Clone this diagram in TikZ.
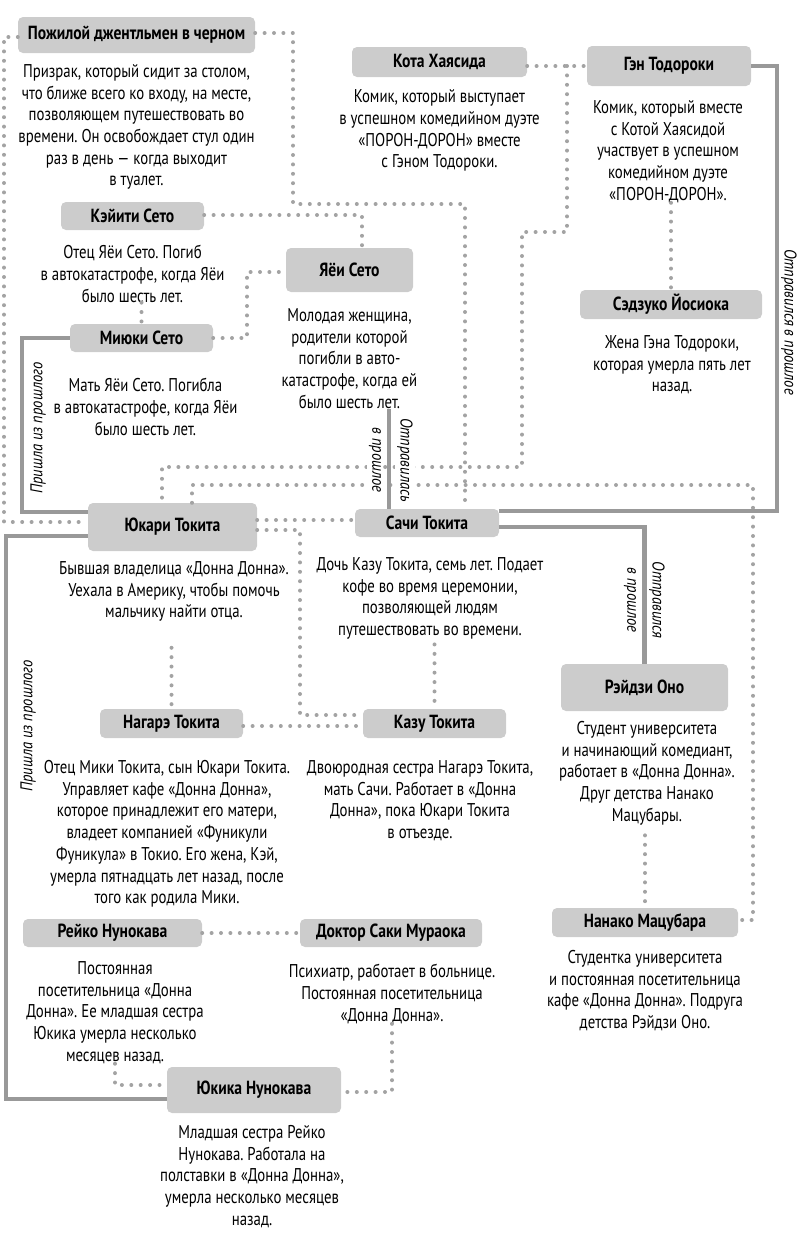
\documentclass[tikz,border=0pt]{standalone}
\usepackage{fontspec}
\setmainfont{PT Sans}[FakeStretch=0.80,BoldFeatures={FakeStretch=0.82},ItalicFeatures={FakeStretch=0.86}]
\usetikzlibrary{positioning,calc}
\frenchspacing

\definecolor{boxgray}{HTML}{CCCCCC}
\definecolor{dotgray}{HTML}{A3A3A3}
\definecolor{linegray}{HTML}{999999}

\begin{document}
\begin{tikzpicture}[x=1pt,y=-1pt,
  node distance=12pt and 0pt,
  pnode/.style={fill=boxgray,rounded corners=5pt,inner sep=0pt,font=\bfseries\fontsize{19}{20}\selectfont},
  dnode/.style={align=center,inner sep=0pt,font=\fontsize{18.5}{21.7}\selectfont},
  dline/.style={draw=dotgray,line width=4pt,line cap=round,dash pattern=on 0pt off 9.4pt},
  tline/.style={draw=linegray,line width=4.5pt},
  lbl/.style={font=\itshape\fontsize{17}{18}\selectfont,inner sep=2pt}
]
\useasboundingbox (0,0) rectangle (800,1243);

% people
\node[pnode,minimum width=237pt,minimum height=36pt] (gent) at (136.5,35) {Пожилой джентльмен в черном};
\node[pnode,minimum width=175pt,minimum height=30pt] (kota) at (439.5,62) {Кота Хаясида};
\node[pnode,minimum width=164pt,minimum height=40pt] (gen) at (669,66) {Гэн Тодороки};
\node[pnode,minimum width=143pt,minimum height=28pt] (keiti) at (132.5,216) {Кэйити Сето};
\node[pnode,minimum width=127pt,minimum height=44pt] (yayoi) at (349.5,270) {Яёи Сето};
\node[pnode,minimum width=143pt,minimum height=28pt] (miyuki) at (141.5,338) {Миюки Сето};
\node[pnode,minimum width=182pt,minimum height=29pt] (sedzuko) at (671,304.5) {Сэдзуко Йосиока};
\node[pnode,minimum width=169pt,minimum height=48pt] (yukari) at (172.5,527) {Юкари Токита};
\node[pnode,minimum width=144pt,minimum height=28pt] (sachi) at (427,523) {Сачи Токита};
\node[pnode,minimum width=143pt,minimum height=29pt] (nagare) at (171.5,723.5) {Нагарэ Токита};
\node[pnode,minimum width=143pt,minimum height=29pt] (kazu) at (434.5,723.5) {Казу Токита};
\node[pnode,minimum width=167pt,minimum height=47pt] (reidzi) at (644.5,687.5) {Рэйдзи Оно};
\node[pnode,minimum width=186pt,minimum height=29pt] (nanako) at (645,922.5) {Нанако Мацубара};
\node[pnode,minimum width=179pt,minimum height=28pt] (reiko) at (112.5,933) {Рейко Нунокава};
\node[pnode,minimum width=182pt,minimum height=28pt] (saki) at (391,933) {Доктор Саки Мураока};
\node[pnode,minimum width=174pt,minimum height=46pt] (yukika) at (254,1090) {Юкика Нунокава};

% descriptions
\node[dnode,below=11pt of gent] (gentd) {Призрак, который сидит за столом,\\что ближе всего ко входу, на месте,\\позволяющем путешествовать во\\времени. Он освобождает стул один\\раз в день — когда выходит\\в туалет.};
\node[dnode,below=12.5pt of kota] (kotad) {Комик, который выступает\\в успешном комедийном дуэте\\«ПОРОН-ДОРОН» вместе\\с Гэном Тодороки.};
\node[dnode,below=14pt of gen,xshift=-1pt] (gend) {Комик, который вместе\\с Котой Хаясидой\\участвует в успешном\\комедийном дуэте\\«ПОРОН-ДОРОН».};
\node[dnode,below=15pt of keiti] (keitid) {Отец Яёи Сето. Погиб\\в автокатастрофе, когда Яёи\\было шесть лет.};
\node[dnode,below=16pt of yayoi] (yayoid) {Молодая женщина,\\родители которой\\погибли в авто-\\катастрофе, когда ей\\было шесть лет.};
\node[dnode,below=26pt of miyuki,xshift=4pt] (miyukid) {Мать Яёи Сето. Погибла\\в автокатастрофе, когда Яёи\\было шесть лет.};
\node[dnode,below=16pt of sedzuko,xshift=1pt] (sedzukod) {Жена Гэна Тодороки,\\которая умерла пять лет\\назад.};
\node[dnode,below=10pt of yukari,xshift=1.5pt] (yukarid) {Бывшая владелица «Донна Донна».\\Уехала в Америку, чтобы помочь\\мальчику найти отца.};
\node[dnode,below=20pt of sachi,xshift=3pt] (sachid) {Дочь Казу Токита, семь лет. Подает\\кофе во время церемонии,\\позволяющей людям\\путешествовать во времени.};
\node[dnode,below=22pt of nagare,xshift=-4.5pt] (nagared) {Отец Мики Токита, сын Юкари Токита.\\Управляет кафе «Донна Донна»,\\которое принадлежит его матери,\\владеет компанией «Фуникули\\Фуникула» в Токио. Его жена, Кэй,\\умерла пятнадцать лет назад, после\\того как родила Мики.};
\node[dnode,below=22pt of kazu,xshift=-14.5pt] (kazud) {Двоюродная сестра Нагарэ Токита,\\мать Сачи. Работает в «Донна\\Донна», пока Юкари Токита\\в отъезде.};
\node[dnode,below=10pt of reidzi,xshift=2.5pt] (reidzid) {Студент университета\\и начинающий комедиант,\\работает в «Донна Донна».\\Друг детства Нанако\\Мацубары.};
\node[dnode,below=13pt of nanako] (nanakod) {Студентка университета\\и постоянная посетительница\\кафе «Донна Донна». Подруга\\детства Рэйдзи Оно.};
\node[dnode,below=14pt of reiko,xshift=2.5pt] (reikod) {Постоянная\\посетительница «Донна\\Донна». Ее младшая сестра\\Юкика умерла несколько\\месяцев назад.};
\node[dnode,below=17pt of saki,xshift=1pt] (sakid) {Психиатр, работает в больнице.\\Постоянная посетительница\\«Донна Донна».};
\node[dnode,below=12pt of yukika,xshift=-2pt] (yukikad) {Младшая сестра Рейко\\Нунокава. Работала на\\полставки в «Донна Донна»,\\умерла несколько месяцев\\назад.};

% dotted links
\draw[dline] ([yshift=-2pt]gent.west) -| (4,522) -- ([yshift=5pt]yukari.west);
\draw[dline] ([yshift=2pt]gent.east) -| (293,204) -| ([xshift=38pt]sachi.north);
\draw[dline] ([yshift=-4pt]kota.east) -- (gen.west);
\coordinate (kg) at (567,66);
\draw[dline] (kg) |- (522,232) |- (162,467) -- ([xshift=-10.5pt]yukari.north);
\draw[dline] ([yshift=1pt]keiti.east) -| ([xshift=12.5pt]yayoi.north);
\draw[dline] (miyuki.north |- keitid.south) -- (miyuki.north);
\draw[dline] (miyuki.east) -| (247,272) -- ([yshift=-2pt]yayoi.west);
\draw[dline] (sedzuko.north |- gend.south) -- (sedzuko.north);
\draw[dline] ([yshift=7pt]yukari.east) -- ([yshift=3pt]sachi.west);
\draw[dline] ([yshift=-3pt]yukari.east) -| (300,715) -- ([yshift=8.5pt]kazu.west);
\draw[dline] ([yshift=-2.5pt]nagare.east) -- ([yshift=-2.5pt]kazu.west);
\draw[dline] ($(nagare.north |- yukarid.south)+(0,26)$) -- (nagare.north);
\draw[dline] ($(kazu.north |- sachid.south)+(0,5)$) -- (kazu.north);
\draw[dline] ($(nanako.north |- reidzid.south)+(0,10)$) -- (nanako.north);
\draw[dline] ([xshift=19.5pt]yukari.north) |- (753,485) |- ([yshift=2.5pt]nanako.east);
\draw[dline] (reiko.east) -- (saki.west);
\draw[dline] (reikod.south) |- ([yshift=5pt]yukika.west);
\draw[dline] (sakid.south) |- ([yshift=-2pt]yukika.east);

% labels
\node[lbl,rotate=90] (pr1) at (38,428) {Пришла из прошлого};
\node[lbl,rotate=90] (pr2) at (28,726) {Пришла из прошлого};
\node[lbl,rotate=-90] (ot1) at (789,322) {Отправился в прошлое};
\node[lbl,rotate=-90,fill=white] (ot2a) at (405,460) {Отправилась};
\node[lbl,rotate=-90,fill=white] (ot2b) at (375,460) {в прошлое};
\node[lbl,rotate=-90] (ot3a) at (657,600) {Отправился};
\node[lbl,rotate=-90] (ot3b) at (630,600) {в прошлое};

% trips in time
\draw[tline] (miyuki.west) -| (22,512) -- ([yshift=15pt]yukari.west);
\draw[tline] ([yshift=-9pt]yukari.west) -| (6,1099) -- ([yshift=-9pt]yukika.west);
\coordinate (yt) at ($(sachi.north)+(-38,0)$);
\draw[tline] (yt |- yayoid.south) -- (yt);
\draw[tline] (gen.east) -| (777,511) -- ([yshift=12pt]sachi.east);
\draw[tline] ([yshift=-4pt]sachi.east) -| (reidzi.north);
\end{tikzpicture}
\end{document}
